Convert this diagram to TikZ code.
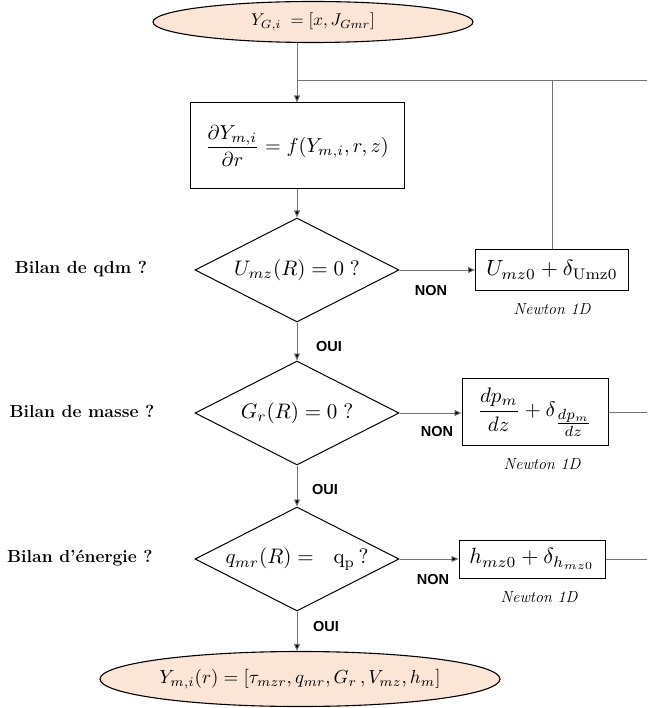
\documentclass[tikz,border=0pt]{standalone}
\usepackage{amsmath}
\usepackage{graphicx}
\usepackage{fontspec}
\newfontfamily\labelsans{Liberation Sans}
\usetikzlibrary{shapes.geometric,arrows.meta}
\definecolor{peach}{RGB}{251,229,214}
\newcommand{\bigmath}[2]{\scalebox{#1}{$#2$}}
\tikzset{
  flow/.style={draw=black!55,line width=0.9pt,-{Triangle[length=7pt,width=6pt,fill=black]}},
  wire/.style={draw=black!55,line width=0.9pt},
  endpoint/.style={ellipse,draw=black,line width=1.1pt,fill=peach,inner sep=0pt},
  calcbox/.style={rectangle,draw=black,line width=1pt,inner sep=0pt},
  test/.style={diamond,draw=black,line width=1pt,inner sep=0pt,aspect=2,
    minimum width=204pt,minimum height=104pt},
  bilan/.style={font=\fontsize{17.5}{20}\selectfont\bfseries},
  answer/.style={font=\labelsans\fontsize{14.5}{16}\selectfont\bfseries},
  newton/.style={font=\fontsize{16}{18}\selectfont\itshape}
}
\begin{document}
\begin{tikzpicture}[x=1pt,y=-1pt]
\useasboundingbox (0,0) rectangle (647,708);
% start and end
\node[endpoint,minimum width=320pt,minimum height=41pt]
  (start) at (313,22) {\bigmath{1.7}{Y_{G,i} \;= [x, J_{Gmr}]}};
\node[endpoint,minimum width=400pt,minimum height=55pt]
  (stop) at (300,679) {\bigmath{1.89}{Y_{m,i}(r) = [\tau_{mzr}, q_{mr}, G_r\,, V_{mz}, h_m]}};
% integration
\node[calcbox,minimum width=214pt,minimum height=86pt]
  (ode) at (297,146) {\bigmath{2.02}{\dfrac{\partial Y_{m,i}}{\partial r} = f(Y_{m,i}, r, z)}};
% tests
\node[test] (qdm) at (297,270) {\bigmath{2.1}{U_{mz}(R) = 0\;?}};
\node[test] (masse) at (297,413) {\bigmath{2.1}{G_r(R) = 0\;?}};
\node[test] (energie) at (297,559) {\bigmath{2.1}{q_{mr}(R) = \ \ \mathrm{q_p}\,?}};
\node[bilan] (lqdm) at (81,269) {Bilan de qdm ?};
\node[bilan] (lmasse) at (82,411) {Bilan de masse ?};
\node[bilan] (lenergie) at (80,558) {Bilan d'énergie ?};
% corrections
\node[calcbox,minimum width=153pt,minimum height=40pt]
  (cu) at (552,270) {\bigmath{2.2}{U_{mz0} + \delta_{\mathrm{Umz0}}}};
\node[calcbox,minimum width=146pt,minimum height=67pt]
  (cp) at (535,412) {\bigmath{2.1}{\dfrac{dp_m}{dz} + \delta_{\genfrac{}{}{}{1}{dp_m}{dz}}}};
\node[calcbox,minimum width=146pt,minimum height=38pt]
  (ch) at (532,559) {\bigmath{2.2}{h_{mz0} + \delta_{h_{mz0}}}};
\node[newton] (nu) at (552,309) {Newton 1D};
\node[newton] (np) at (542,464) {Newton 1D};
\node[newton] (nh) at (539,597) {Newton 1D};
% answers
\node[answer] (non1) at (431,291) {NON};
\node[answer] (non2) at (437,432) {NON};
\node[answer] (non3) at (433,580) {NON};
\node[answer] (oui1) at (329,347) {OUI};
\node[answer] (oui2) at (325,490) {OUI};
\node[answer] (oui3) at (326,627) {OUI};
% feedback points
\coordinate (jl) at (297,80);
\coordinate (jr) at (647,80);
\coordinate (ep) at (647,412);
\coordinate (eh) at (647,559);
% connectors
\draw[flow] (start.south -| ode.north) -- (ode.north);
\draw[wire] (jl) -- (jr);
\draw[wire] (cu.north) -- (cu.north |- jr);
\draw[flow] (ode) -- (qdm);
\draw[flow] (qdm) -- (masse);
\draw[flow] (masse) -- (energie);
\draw[flow] (energie) -- (stop.north -| energie.south);
\draw[flow] (qdm) -- (cu);
\draw[flow] (masse.east) -- (cp.west |- masse.east);
\draw[flow] (energie) -- (ch);
\draw[wire] (cp.east) -- (ep);
\draw[wire] (ch.east) -- (eh);
\end{tikzpicture}
\end{document}
